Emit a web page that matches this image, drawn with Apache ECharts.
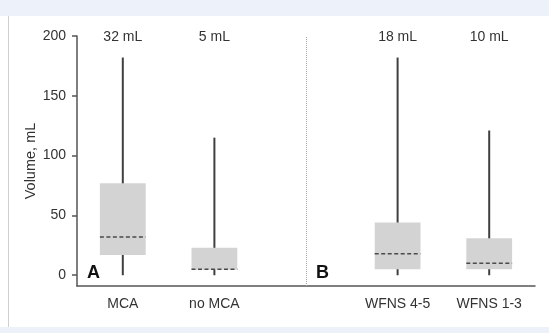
<!DOCTYPE html>
<html>
<head>
<meta charset="utf-8">
<script src="https://cdn.jsdelivr.net/npm/echarts@6/dist/echarts.min.js"></script>
<style>
  html, body { margin: 0; padding: 0; background: #fff; }
  #chart { width: 549px; height: 333px; }
</style>
</head>
<body>
<div id="chart"></div>
<script>
// categories, middle empty slot is the gap between panel A and B
const categories = ['MCA', 'no MCA', '', 'WFNS 4-5', 'WFNS 1-3'];
const whiskerLow = [0, 0, null, 0, 0];
const q1 = [17, 4.5, null, 5, 5];
const median = [32, 5, null, 18, 10];
const q3 = [77, 23, null, 44, 31];
const whiskerHigh = [182, 115, null, 182, 121];
const medianLabels = ['32 mL', '5 mL', '', '18 mL', '10 mL'];
const yTicks = [0, 50, 100, 150, 200];

const FONT = '"Liberation Sans", Arial, sans-serif';

const boxData = [];
categories.forEach(function (c, i) {
  if (median[i] == null) return;
  boxData.push([i, whiskerLow[i], q1[i], median[i], q3[i], whiskerHigh[i]]);
});

function renderBox(params, api) {
  const x = api.value(0);
  const lo = api.coord([x, api.value(1)]);
  const b = api.coord([x, api.value(2)]);
  const m = api.coord([x, api.value(3)]);
  const t = api.coord([x, api.value(4)]);
  const hi = api.coord([x, api.value(5)]);
  const top = api.coord([x, 200]);
  const hw = api.size([1, 0])[0] * 0.25;
  return {
    type: 'group',
    children: [
      {
        type: 'line',
        shape: { x1: lo[0], y1: lo[1], x2: hi[0], y2: hi[1] },
        style: { stroke: '#3f3f3f', lineWidth: 2 }
      },
      {
        type: 'rect',
        shape: { x: b[0] - hw, y: t[1], width: hw * 2, height: b[1] - t[1] },
        style: { fill: '#d3d3d3' }
      },
      {
        type: 'line',
        shape: { x1: m[0] - hw, y1: m[1], x2: m[0] + hw, y2: m[1] },
        style: { stroke: '#4a4a4a', lineWidth: 1.5, lineDash: [4, 2.5] }
      },
      {
        type: 'text',
        x: top[0],
        y: top[1] + 1.5,
        style: {
          text: medianLabels[x],
          align: 'center',
          verticalAlign: 'middle',
          fontSize: 14,
          fontFamily: FONT,
          fill: '#333'
        }
      }
    ]
  };
}

const chart = echarts.init(document.getElementById('chart'), null, { renderer: 'canvas' });

chart.setOption({
  backgroundColor: '#ffffff',
  animation: false,
  grid: { left: 77, right: 14, top: 36, bottom: 47 },
  graphic: [
    { type: 'rect', shape: { x: 0, y: 0, width: 549, height: 16 }, style: { fill: '#edf2fa' }, silent: true },
    { type: 'rect', shape: { x: 0, y: 327, width: 549, height: 6 }, style: { fill: '#edf2fa' }, silent: true },
    { type: 'line', shape: { x1: 8.5, y1: 16, x2: 8.5, y2: 327 }, style: { stroke: '#cfcfcf', lineWidth: 1 }, silent: true },
    { type: 'text', x: 87, y: 264, style: { text: 'A', fontSize: 18, fontWeight: 'bold', fontFamily: FONT, fill: '#111' } },
    { type: 'text', x: 316, y: 264, style: { text: 'B', fontSize: 18, fontWeight: 'bold', fontFamily: FONT, fill: '#111' } }
  ],
  xAxis: {
    type: 'category',
    data: categories,
    axisLine: { onZero: false, lineStyle: { color: '#555', width: 1.5 } },
    axisTick: {
      alignWithLabel: true,
      length: 4,
      interval: function (index) { return categories[index] !== ''; },
      lineStyle: { color: '#555', width: 1.5 }
    },
    axisLabel: { color: '#333', fontSize: 14, fontFamily: FONT, margin: 11 },
    splitLine: { show: false }
  },
  yAxis: {
    type: 'value',
    min: -9,
    max: 200,
    name: 'Volume, mL',
    nameLocation: 'middle',
    nameGap: 39,
    nameMoveOverlap: false,
    nameTextStyle: { color: '#333', fontSize: 14.5, fontFamily: FONT },
    axisLine: { show: true, lineStyle: { color: '#555', width: 1.5 } },
    axisTick: { show: true, length: 5, customValues: yTicks, lineStyle: { color: '#555', width: 1.5 } },
    axisLabel: { color: '#333', fontSize: 14, fontFamily: FONT, margin: 11, customValues: yTicks },
    splitLine: { show: false }
  },
  series: [
    {
      type: 'custom',
      renderItem: renderBox,
      encode: { x: 0, y: [1, 2, 3, 4, 5] },
      data: boxData,
      markLine: {
        silent: true,
        symbol: 'none',
        label: { show: false },
        lineStyle: { color: '#aaa', type: 'dotted', width: 1 },
        data: [{ xAxis: 2 }]
      }
    }
  ]
});
</script>
</body>
</html>
